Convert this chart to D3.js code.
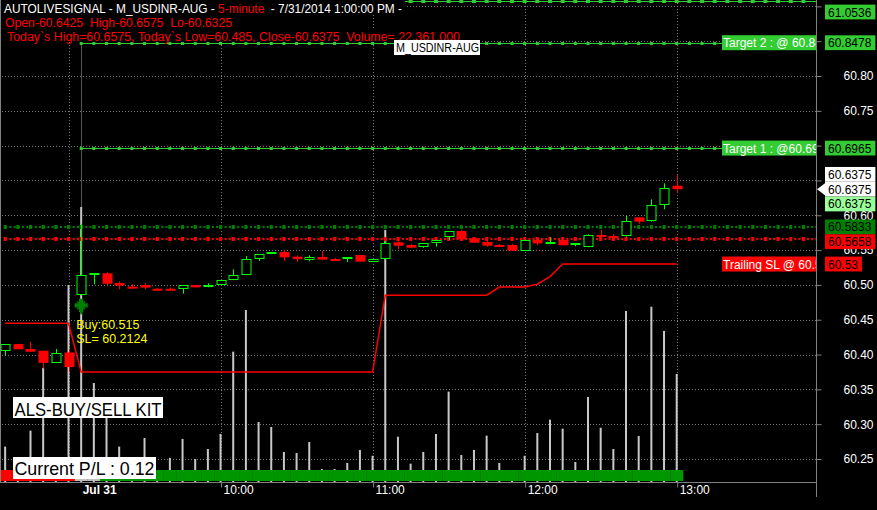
<!DOCTYPE html>
<html><head><meta charset="utf-8">
<script src="https://cdn.jsdelivr.net/npm/d3@7"></script>
<style>
body{margin:0;background:#000;overflow:hidden}
svg{display:block}
text{font-family:"Liberation Sans",Arial,sans-serif;white-space:pre}
</style>
</head><body>
<svg id="c" width="877" height="510"></svg>
<script>
// ---------------- DATA ----------------
const times = ["16:35","16:40","16:45","16:50","16:55","17:00",
 "09:05","09:10","09:15","09:20","09:25","09:30","09:35","09:40","09:45","09:50","09:55","10:00",
 "10:05","10:10","10:15","10:20","10:25","10:30","10:35","10:40","10:45","10:50","10:55","11:00",
 "11:05","11:10","11:15","11:20","11:25","11:30","11:35","11:40","11:45","11:50","11:55","12:00",
 "12:05","12:10","12:15","12:20","12:25","12:30","12:35","12:40","12:45","12:50","12:55","13:00"];
const open  = [60.405,60.415,60.408,60.4055,60.388,60.403,60.485,60.514,60.5167,60.5027,60.4975,60.4998,60.4945,60.4945,60.4937,60.4998,60.4965,60.4994,60.507,60.5138,60.5368,60.5444,60.5473,60.5405,60.5363,60.5401,60.5372,60.5364,60.5429,60.5332,60.5363,60.5612,60.5573,60.5534,60.5597,60.5693,60.5774,60.5669,60.5616,60.5573,60.5573,60.5491,60.5645,60.5597,60.5645,60.5569,60.554,60.5717,60.5703,60.5693,60.597,60.5908,60.6137,60.6425];
const high  = [60.415,60.415,60.418,60.4055,60.408,60.408,60.588,60.5167,60.518,60.505,60.501,60.502,60.4957,60.4966,60.4995,60.4998,60.5023,60.507,60.5224,60.5415,60.5444,60.5473,60.55,60.5425,60.5425,60.5487,60.5387,60.5401,60.5429,60.5372,60.563,60.5645,60.5588,60.5597,60.5645,60.5774,60.579,60.5669,60.5645,60.5587,60.5587,60.5645,60.5645,60.5684,60.5645,60.5602,60.5727,60.5789,60.573,60.599,60.597,60.6229,60.6459,60.6575];
const low   = [60.399,60.4075,60.404,60.380,60.388,60.375,60.485,60.501,60.4995,60.4937,60.4945,60.4937,60.492,60.4915,60.4874,60.4965,60.4965,60.4994,60.507,60.5138,60.5345,60.5444,60.5347,60.5334,60.5339,60.5363,60.5349,60.5329,60.5334,60.5332,60.5363,60.5511,60.5525,60.5534,60.555,60.5645,60.5655,60.5606,60.555,60.555,60.5491,60.5491,60.5569,60.5597,60.5569,60.5555,60.554,60.5631,60.566,60.5693,60.5879,60.5908,60.6085,60.6325];
const close = [60.415,60.4075,60.404,60.388,60.402,60.382,60.514,60.5167,60.5017,60.499,60.496,60.496,60.493,60.4917,60.4995,60.4965,60.4994,60.507,60.5138,60.537,60.5444,60.5473,60.5396,60.537,60.5401,60.5363,60.5358,60.5397,60.5334,60.5372,60.5597,60.5563,60.5534,60.5597,60.5645,60.5774,60.5655,60.5606,60.5563,60.5563,60.5491,60.5645,60.5597,60.5621,60.5569,60.5602,60.5712,60.5693,60.5693,60.5914,60.5908,60.6143,60.6387,60.6375];
const volume = [193000,30000,280000,622000,55000,1075000,1500000,540000,349000,193000,45000,240000,45000,131000,235000,125000,180000,262000,711000,938000,327000,300000,164000,158000,218000,71000,71000,104000,175000,143000,1375000,247000,100000,164000,262000,493000,147000,175000,253000,104000,44000,143000,267000,340000,291000,109000,464000,296000,180000,933000,251000,956000,824000,589000];
const trailSL = [60.4448,60.4448,60.4448,60.4448,60.4448,60.4448,
 60.3748,60.3748,60.3748,60.3748,60.3748,60.3748,60.3748,60.3748,60.3748,60.3748,60.3748,60.3748,
 60.3748,60.3748,60.3748,60.3748,60.3748,60.3748,60.3748,60.3748,60.3748,60.3748,60.3748,60.3748,
 60.4852,60.4852,60.4852,60.4852,60.4852,60.4852,60.4852,60.4852,60.4852,
 60.497,60.497,60.497,60.501,60.512,
 60.53,60.53,60.53,60.53,60.53,60.53,60.53,60.53,60.53,60.53];
const signal = ["S","S","S","S","S","S","N","N",
 "B","B","B","B","B","B","B","B","B","B","B","B","B","B","B","B","B","B","B",
 "B","B","B","B","B","B","B","B","B","B","B","B","B","B","B","B","B","B","B",
 "B","B","B","B","B","B","B","B"];
const yTicks = [60.25,60.30,60.35,60.40,60.45,60.50,60.55,60.60,60.65,60.70,60.75,60.80,60.85,60.90];
const hourLabels = ["10:00","11:00","12:00","13:00"];
const dayStart = "09:05", dayLabel = "Jul 31";
const target3 = 61.0536, target2 = 60.8478, target1 = 60.6965;
const levelG = 60.5833, levelR = 60.5658;
const buyBar = "09:05", buyPrice = 60.515, buySL = 60.2124;
const symbol = "M_USDINR-AUG";
const header1 = ["AUTOLIVESIGNAL - M_USDINR-AUG - ","5-minute","  - 7/31/2014 1:00:00 PM -"];
const header2 = "Open-60.6425  High-60.6575  Lo-60.6325";
const header3 = "Today`s High=60.6575, Today`s Low=60.485, Close-60.6375  Volume= 22,361,000";
const kitLabel = "ALS-BUY/SELL KIT";
const plLabel = "Current P/L : 0.12";
const tags = [
 {v:61.0536,bg:"#33cc33"},{v:60.8478,bg:"#33cc33"},{v:60.6965,bg:"#33cc33"},
 {v:60.6375,bg:"#ffffff"},{v:60.6375,bg:"#ffffff",cur:true},{v:60.6375,bg:"#99ff99"},
 {v:60.5833,bg:"#008000"},{v:60.5658,bg:"#ff0000"},{v:60.53,bg:"#ff0000"}];

// ---------------- CHART ----------------
const svg = d3.select("#c");
const plotR = 816, axisY = 482;
const x = d3.scalePoint().domain(times).range([5.15, 676.7]);
const step = x.step();
const y = d3.scaleLinear().domain([60.25, 60.80]).range([459, 76]);
const yv = d3.scaleLinear().domain([0, 1500000]).range([axisY, 207]);
const N = times.length;
const idx = d3.range(N);

svg.append("rect").attr("width",877).attr("height",510).attr("fill","#000");
svg.append("defs").append("clipPath").attr("id","plot")
  .append("rect").attr("x",1).attr("y",0).attr("width",plotR-1).attr("height",axisY);
const g = svg.append("g").attr("clip-path","url(#plot)");

// grid
g.selectAll(".hg").data(yTicks).join("line")
  .attr("x1",2).attr("x2",plotR).attr("y1",d=>Math.round(y(d))+0.5).attr("y2",d=>Math.round(y(d))+0.5)
  .attr("stroke","#777").attr("stroke-dasharray","1,2");
const hourBars = times.filter(t=>t.endsWith(":00"));
g.selectAll(".vg").data(hourBars).join("line")
  .attr("x1",d=>Math.round(x(d))+0.5).attr("x2",d=>Math.round(x(d))+0.5).attr("y1",0).attr("y2",axisY)
  .attr("stroke","#777").attr("stroke-dasharray","1,2");
g.append("line").attr("x1",Math.round(x(dayStart))+0.5).attr("x2",Math.round(x(dayStart))+0.5)
  .attr("y1",0).attr("y2",axisY).attr("stroke","#555");

// volume
g.selectAll(".vol").data(idx).join("rect")
  .attr("x",i=>x(times[i])-1).attr("width",2)
  .attr("y",i=>yv(volume[i])).attr("height",i=>axisY-yv(volume[i]))
  .attr("fill","#c8c8c8");

// signal strip
const sigCol = {S:"#ff0000",N:"#c0c0c0",B:"#009600"};
g.selectAll(".sig").data(idx).join("rect")
  .attr("x",i=>x(times[i])-step/2).attr("width",step+0.3)
  .attr("y",470).attr("height",11).attr("fill",i=>sigCol[signal[i]]);

// level lines with markers
function levelLine(val, yy, startBar, col, dotted, mw, mh){
  const x0 = x(startBar);
  g.append("line").attr("x1",x0).attr("x2",plotR).attr("y1",yy).attr("y2",yy)
    .attr("stroke",col).attr("stroke-width",dotted?2:1).attr("stroke-dasharray",dotted?"2,2.22":null);
  const pos = [];
  for(let p=x0; p<plotR; p+=step) pos.push(p);
  g.selectAll(null).data(pos).join("rect")
    .attr("x",p=>p-mw/2).attr("y",yy-mh/2).attr("width",mw).attr("height",mh).attr("fill",col);
}
levelLine(target3, 1.5, buyBar, "#33cc33", false, 4, 3);
levelLine(target2, Math.round(y(target2))+0.5, buyBar, "#33cc33", false, 3, 3);
levelLine(target1, Math.round(y(target1))+0.5, buyBar, "#33cc33", false, 3, 3);
levelLine(levelG, Math.round(y(levelG)), times[0], "#008000", true, 3, 4);
levelLine(levelR, Math.round(y(levelR)), times[0], "#ff0000", true, 3, 4);

// trailing SL
g.append("path").datum(idx)
  .attr("d", d3.line().x(i=>x(times[i])).y(i=>y(trailSL[i])))
  .attr("fill","none").attr("stroke","#ff0000").attr("stroke-width",1.5);

// candles
const up = i => close[i] >= open[i];
const cg = g.append("g");
idx.forEach(i=>{
  const cx = Math.round(x(times[i]))+0.5;
  const col = up(i) ? "#00ff00" : "#ff0000";
  cg.append("line").attr("x1",cx).attr("x2",cx).attr("y1",y(high[i])).attr("y2",y(low[i]))
    .attr("stroke",col);
  const yt = y(Math.max(open[i],close[i])), yb = y(Math.min(open[i],close[i]));
  const h = Math.max(2, yb-yt);
  if(up(i)){
    cg.append("rect").attr("x",cx-4.5).attr("y",Math.round(yt)+0.5).attr("width",9).attr("height",Math.max(1,Math.round(h)-1))
      .attr("fill","#000").attr("stroke",col);
  } else {
    cg.append("rect").attr("x",cx-5).attr("y",yt).attr("width",10).attr("height",h).attr("fill",col);
  }
});

// buy marker
const bx = x(buyBar), by = y(low[times.indexOf(buyBar)]);
g.append("path").attr("d",d3.symbol(d3.symbolCross,95)())
  .attr("transform",`translate(${bx},${by+10})`).attr("fill","#008000");
g.append("path").attr("d",d3.symbol(d3.symbolX ? d3.symbolTimes : d3.symbolCross,40)())
  .attr("transform",`translate(${bx},${by+10})`).attr("stroke","#008000").attr("stroke-width",1.5).attr("fill","none");
g.append("rect").attr("x",bx-1).attr("y",by+14).attr("width",2).attr("height",5).attr("fill","#008000");
g.append("text").attr("x",bx-5).attr("y",by+33.5).attr("fill","#ffff00").attr("font-size",12.5).text("Buy:"+buyPrice);
g.append("text").attr("x",bx-5).attr("y",by+47.5).attr("fill","#ffff00").attr("font-size",12.5).text("SL= "+buySL);

// in-plot level labels
function plotLabel(txt, yy, bg){
  g.append("rect").attr("x",722).attr("y",yy-7.5).attr("width",plotR-722).attr("height",15).attr("fill",bg);
  g.append("text").attr("x",723).attr("y",yy+4.5).attr("fill","#fff").attr("font-size",12).text(txt);
}
plotLabel("Target 2 : @ "+target2, y(target2), "#33cc33");
plotLabel("Target 1 : @"+target1, y(target1), "#33cc33");
plotLabel("Trailing SL @ "+trailSL[N-1], y(trailSL[N-1]), "#ff0000");

// header (backgrounds first, then texts)
const hdrs = [
  {yb:12.5, xs:4, parts:header1, cols:["#fff","#ff0000","#fff"], w:398},
  {yb:27, xs:5, parts:[header2], cols:["#ff0000"], w:227},
  {yb:40.5, xs:7, parts:[header3], cols:["#ff0000"], w:453}];
const hbg = svg.append("g"), htx = svg.append("g");
hdrs.forEach(h=>{
  hbg.append("rect").attr("x",0).attr("y",h.yb-12.5).attr("width",h.xs+h.w+3).attr("height",14).attr("fill","#000");
  const t = htx.append("text").attr("x",h.xs).attr("y",h.yb).attr("font-size",12)
    .attr("textLength",h.w).attr("lengthAdjust","spacingAndGlyphs");
  h.parts.forEach((p,k)=>t.append("tspan").attr("fill",h.cols[k]).text(p));
});

// symbol tag
svg.append("rect").attr("x",394).attr("y",40).attr("width",86).attr("height",15).attr("fill","#fff");
svg.append("text").attr("x",396).attr("y",52).attr("font-size",12).attr("fill","#000")
  .attr("textLength",83).attr("lengthAdjust","spacingAndGlyphs").text(symbol);

// boxes
function boxText(txt, bx0, by0, w, h, fs, base){
  svg.append("rect").attr("x",bx0).attr("y",by0).attr("width",w).attr("height",h).attr("fill","#fff");
  svg.append("text").attr("x",bx0+1.5).attr("y",base).attr("font-size",fs).attr("fill","#000")
    .attr("textLength",w-3).attr("lengthAdjust","spacingAndGlyphs").text(txt);
}
boxText(kitLabel, 13, 397, 150, 21, 18.5, 415.5);
boxText(plLabel, 13, 457, 143, 22, 18.5, 475);

// axes
svg.append("line").attr("x1",0.5).attr("x2",0.5).attr("y1",0).attr("y2",axisY).attr("stroke","#808080");
svg.append("line").attr("x1",0).attr("x2",plotR).attr("y1",axisY+0.5).attr("y2",axisY+0.5).attr("stroke","#808080");
svg.append("line").attr("x1",plotR+0.5).attr("x2",plotR+0.5).attr("y1",0).attr("y2",497).attr("stroke","#808080");

// value tag layout
const th = 14.8;
const groups = d3.groups(tags.map((t,k)=>({...t,k})), d=>d.v);
groups.forEach(([v,arr])=>{
  arr.forEach((t,j)=>{ t.cy = Math.max(12, y(v)) + (j-(arr.length-1)/2)*th; });
});
const flat = groups.flatMap(d=>d[1]).sort((a,b)=>a.k-b.k);
for(let k=1;k<flat.length;k++){ if(flat[k].cy < flat[k-1].cy + th) flat[k].cy = flat[k-1].cy + th; }
const hidden = v => flat.some(t => Math.abs(y(v) - t.cy) < th/2);

const ya = svg.append("g").attr("transform",`translate(${plotR+0.5},0)`)
  .call(d3.axisRight(y).tickValues(yTicks).tickSize(5).tickFormat(d=>hidden(d)?"":d3.format(".2f")(d)));
ya.select(".domain").remove();
ya.selectAll("line").attr("stroke","#808080");
ya.selectAll("text").attr("fill","#fff").attr("font-size",12).attr("x",57).attr("text-anchor","end")
  .attr("font-family","Liberation Sans, Arial, sans-serif");

const xa = svg.append("g").attr("transform",`translate(0,${axisY+0.5})`)
  .call(d3.axisBottom(x).tickValues(hourLabels).tickSize(5).tickFormat(d=>d));
xa.select(".domain").remove();
xa.selectAll("line").attr("stroke","#808080").attr("transform","translate(0.5,0)");
xa.selectAll("text").attr("fill","#fff").attr("font-size",12).attr("text-anchor","start")
  .attr("x",2.5).attr("y",3).attr("dy","8.5").attr("font-family","Liberation Sans, Arial, sans-serif");
svg.append("text").attr("x",x(dayStart)+1.5).attr("y",494).attr("fill","#fff").attr("font-size",12)
  .attr("font-weight","bold").text(dayLabel);

flat.forEach(t=>{
  const tx = svg.append("text").attr("x",828).attr("y",t.cy+4.5).attr("font-size",12).attr("fill","#000").text(String(t.v));
  const w = tx.node().getComputedTextLength();
  svg.insert("rect",()=>tx.node()).attr("x",825).attr("y",t.cy-th/2).attr("width",Math.min(51,w+7)).attr("height",th).attr("fill",t.bg);
  if(t.cur){
    svg.append("path").attr("d",`M817,${t.cy} L825,${t.cy-6} L825,${t.cy+6} Z`).attr("fill","#fff");
  }
});
</script>
</body></html>
